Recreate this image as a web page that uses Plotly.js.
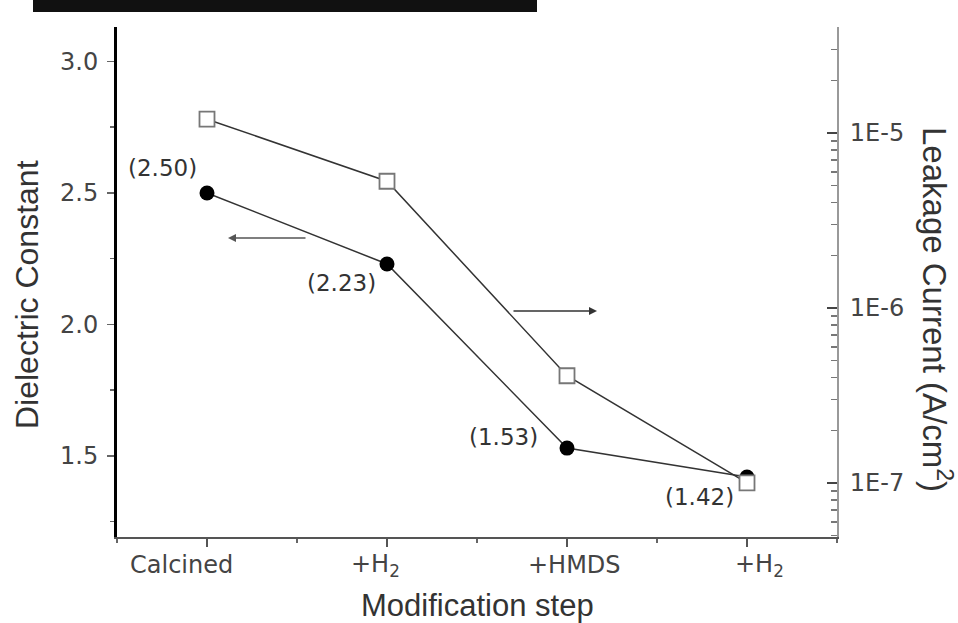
<!DOCTYPE html>
<html>
<head>
<meta charset="utf-8">
<script src="https://cdn.plot.ly/plotly-3.0.1.min.js"></script>
<style>html,body{margin:0;padding:0;background:#fff;}#chart{width:958px;height:623px;}</style>
</head>
<body>
<div id="chart"></div>
<script>
// Data
const stepIndex = [0, 1, 2, 3];
const stepLabels = ["Calcined", "+H<sub>2</sub>", "+HMDS", "+H<sub>2</sub>"];
const dielectric = [2.50, 2.23, 1.53, 1.42];
const leakage = [1.2e-5, 5.3e-6, 4.1e-7, 1.0e-7];
const leakTickVals = [1e-7, 1e-6, 1e-5];
const leakTickText = ["1E-7", "1E-6", "1E-5"];
const dielTickVals = [1.5, 2.0, 2.5, 3.0];
const dielTickText = ["1.5", "2.0", "2.5", "3.0"];

const W = 958, H = 623;
const L = 117, R = 837, T = 27, B = 537;
const px = v => (v - L) / (R - L);
const py = v => (B - v) / (B - T);

// minor ticks for log axis
const minorLog = [];
for (let e = -8; e <= -4; e++) {
  for (let d = 2; d <= 9; d++) minorLog.push(d * Math.pow(10, e));
}

const tickFont = {family: "DejaVu Sans, Liberation Sans, sans-serif", size: 24, color: "#444"};
const titleFont = {family: "Liberation Sans, Arial, sans-serif", size: 31, color: "#333"};

const traces = [
  {
    x: stepIndex, y: dielectric, type: "scatter", mode: "lines+markers",
    line: {color: "#333", width: 1.5},
    marker: {symbol: "circle", size: 15, color: "#000"},
    yaxis: "y", hoverinfo: "none", cliponaxis: false
  },
  {
    x: stepIndex, y: leakage, type: "scatter", mode: "lines+markers",
    line: {color: "#333", width: 1.5},
    marker: {symbol: "square", size: 15, color: "#fff", line: {color: "#777", width: 1.8}},
    yaxis: "y2", hoverinfo: "none", cliponaxis: false
  }
];

const labelShift = [[-45, 25], [-46, -19], [-64, 11], [-48, -20]];
const annotations = dielectric.map((v, i) => ({
  x: stepIndex[i], y: v, xref: "x", yref: "y",
  text: "(" + v.toFixed(2) + ")", showarrow: false,
  xshift: labelShift[i][0], yshift: labelShift[i][1],
  font: {family: "DejaVu Sans, sans-serif", size: 23, color: "#333"}
}));

// category labels (offset as in the original)
const catShift = [-26, -12, 7, 12];
stepLabels.forEach((t, i) => annotations.push({
  x: stepIndex[i], y: py(565), xref: "x", yref: "paper",
  text: t, showarrow: false, xshift: catShift[i],
  xanchor: "center", yanchor: "middle", font: tickFont
}));

// direction arrows
annotations.push({
  x: px(228), y: py(238), xref: "paper", yref: "paper",
  ax: 79, ay: 0, text: "", showarrow: true,
  arrowhead: 2, arrowsize: 1, arrowwidth: 1.6, arrowcolor: "#555"
});
annotations.push({
  x: px(597), y: py(311), xref: "paper", yref: "paper",
  ax: -85, ay: 0, text: "", showarrow: true,
  arrowhead: 2, arrowsize: 1, arrowwidth: 1.6, arrowcolor: "#333"
});

// titles
annotations.push({
  x: 0.5, y: py(605), xref: "paper", yref: "paper", showarrow: false,
  text: "Modification step", font: titleFont, xanchor: "center", yanchor: "middle"
});
annotations.push({
  x: px(27), y: py(295), xref: "paper", yref: "paper", showarrow: false,
  text: "Dielectric Constant", textangle: -90, font: {...titleFont, size: 32},
  xanchor: "center", yanchor: "middle"
});
annotations.push({
  x: px(937), y: py(309), xref: "paper", yref: "paper", showarrow: false,
  text: "Leakage Current (A/cm<sup>2</sup>)", textangle: 90, font: {...titleFont, size: 33},
  xanchor: "center", yanchor: "middle"
});

const layout = {
  width: W, height: H,
  margin: {l: L, r: W - R, t: T, b: H - B, pad: 0},
  paper_bgcolor: "#fff", plot_bgcolor: "#fff",
  showlegend: false,
  xaxis: {
    range: [-0.5, 3.5], tickmode: "array", tickvals: stepIndex, ticktext: stepLabels,
    showticklabels: false,
    showgrid: false, zeroline: false, showline: true, linecolor: "#555", linewidth: 2,
    ticks: "outside", ticklen: 8, tickwidth: 1.5, tickcolor: "#555",
    minor: {dtick: 0.5, tick0: 0.5, ticks: "outside", ticklen: 4, tickwidth: 1.5, tickcolor: "#666"}
  },
  yaxis: {
    range: [1.192, 3.131], tickmode: "array", tickvals: dielTickVals, ticktext: dielTickText,
    showgrid: false, zeroline: false, showline: true, linecolor: "#000", linewidth: 3,
    ticks: "outside", ticklen: 7, tickwidth: 1.5, tickcolor: "#666",
    tickfont: tickFont, ticklabelstandoff: 4,
    minor: {tickmode: "array", tickvals: [1.25, 1.75, 2.25, 2.75], ticks: "outside", ticklen: 4, tickwidth: 1.5, tickcolor: "#666"}
  },
  yaxis2: {
    type: "log", overlaying: "y", side: "right",
    range: [-7.309, -4.394], tickmode: "array", tickvals: leakTickVals, ticktext: leakTickText,
    showgrid: false, zeroline: false, showline: true, linecolor: "#999", linewidth: 2,
    ticks: "inside", ticklen: 10, tickwidth: 1.5, tickcolor: "#444",
    tickfont: tickFont, ticklabelstandoff: 6,
    minor: {tickmode: "array", tickvals: minorLog, ticks: "inside", ticklen: 6, tickwidth: 1.5, tickcolor: "#777"}
  },
  shapes: [
    {type: "rect", xref: "paper", yref: "paper", x0: px(33), x1: px(537), y0: py(12), y1: py(-2),
     fillcolor: "#111", line: {width: 0}, layer: "above"}
  ],
  annotations: annotations
};

Plotly.newPlot("chart", traces, layout, {displayModeBar: false, staticPlot: true});
</script>
</body>
</html>
